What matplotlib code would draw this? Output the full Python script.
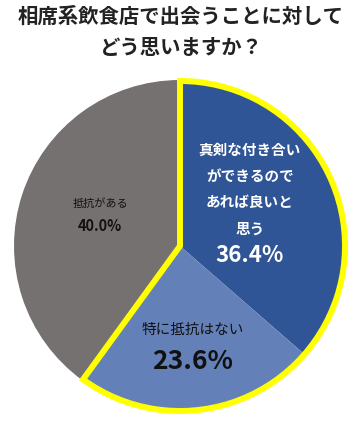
import matplotlib.pyplot as plt
from matplotlib.patches import Wedge

plt.rcParams['font.family'] = ['Noto Sans CJK JP', 'DejaVu Sans']

# data
labels = ['真剣な付き合い\nができるので\nあれば良いと\n思う', '特に抵抗はない', '抵抗がある']
values = [36.4, 23.6, 40.0]
pct_labels = ['36.4%', '23.6%', '40.0%']
colors = ['#2F5597', '#6381B8', '#767171']
title_lines = ['相席系飲食店で出会うことに対して', 'どう思いますか？']

W, H = 362, 435
fig = plt.figure(figsize=(W / 100, H / 100), dpi=100)
ax = fig.add_axes([0, 0, 1, 1])

cx, cy, r = 180, H - 247, 166
ax.pie(values, colors=colors, startangle=90, counterclock=False,
       center=(cx, cy), radius=r, frame=True,
       wedgeprops=dict(linewidth=0))
ax.set_xlim(0, W)
ax.set_ylim(0, H)
ax.set_aspect('equal')
ax.axis('off')

# yellow outline around the two blue slices
span = 360 * (values[0] + values[1]) / sum(values)
ax.add_patch(Wedge((cx, cy), r - 1, 90 - span, 90, fill=False,
                   ec='#FFFF00', lw=4.3, joinstyle='miter'))

# title
ax.text(W / 2, H - 16, title_lines[0], ha='center', va='center',
        fontsize=14.7, fontweight='bold', color='#222222')
ax.text(W / 2, H - 48, title_lines[1], ha='center', va='center',
        fontsize=14.7, fontweight='bold', color='#222222')

# slice labels
ax.text(250, H - 189, labels[0], ha='center', va='center', fontsize=10.5,
        fontweight='bold', color='white', linespacing=1.8)
ax.text(250, H - 256, pct_labels[0], ha='center', va='center', fontsize=16,
        fontweight='bold', color='white')

ax.text(193, H - 330, labels[1], ha='center', va='center', fontsize=10.5,
        color='#111111')
ax.text(193, H - 362, pct_labels[1], ha='center', va='center', fontsize=19,
        fontweight='bold', color='#111111')

ax.text(100, H - 204, labels[2], ha='center', va='center', fontsize=8,
        color='#111111')
ax.text(100, H - 226, pct_labels[2], ha='center', va='center', fontsize=10.5,
        fontweight='bold', color='#111111')

fig.savefig('out.png', dpi=100)
